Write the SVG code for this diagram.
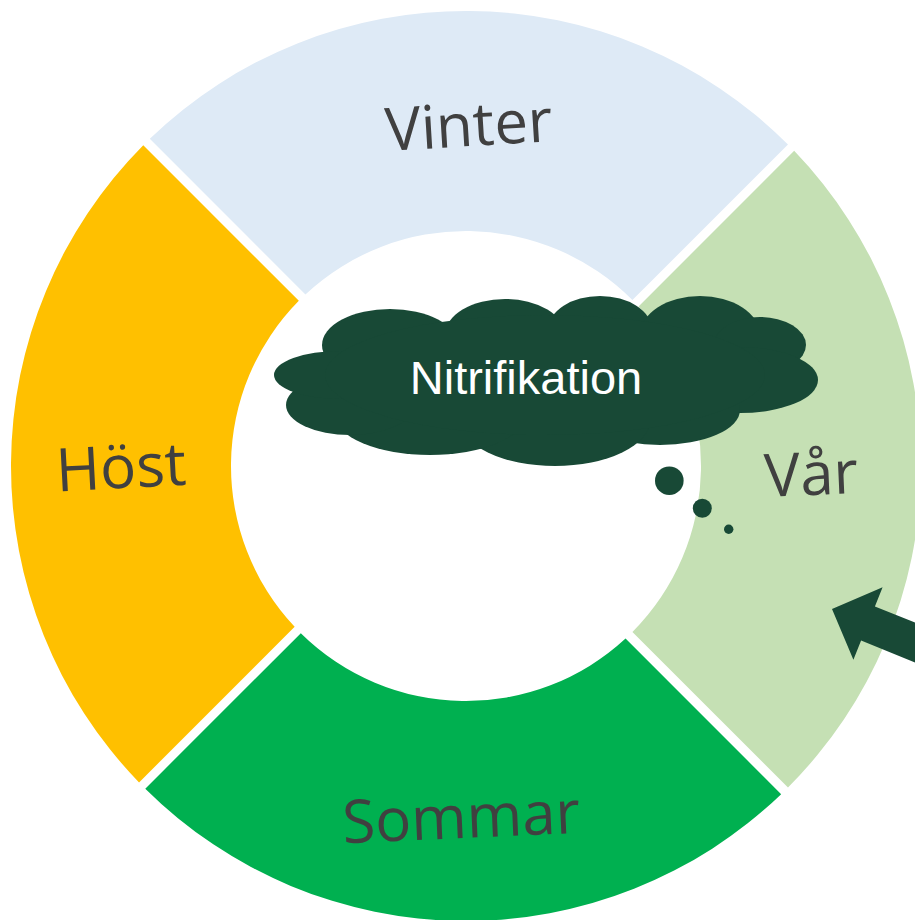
<svg xmlns="http://www.w3.org/2000/svg" width="915" height="920" viewBox="0 0 915 920">
<style>
.lbl{font-family:"Open Sans","DejaVu Sans",sans-serif;font-size:60px;fill:#404040;text-anchor:middle}
.cloud{fill:#184936}
.ctext{font-family:"Liberation Sans",Arial,sans-serif;font-size:47px;fill:#ffffff;text-anchor:middle}
</style>
<rect width="915" height="920" fill="#ffffff"/>
<g id="vinter">
<path d="M149.81,138.81 A455,455 0 0 1 787.99,144.51 L632.42,300.08 A235,235 0 0 0 305.42,294.42 Z" fill="#DEEAF6"/>
<text class="lbl" x="470" y="146" transform="rotate(-3.5 470 146)">Vinter</text>
</g>
<g id="var">
<path d="M794.17,150.83 A455,455 0 0 1 787.99,787.49 L632.42,631.92 A235,235 0 0 0 638.55,306.45 Z" fill="#C5E0B4"/>
<text class="lbl" x="812" y="495" transform="rotate(-2.5 812 495)">Vår</text>
</g>
<g id="sommar">
<path d="M781.17,794.17 A455,455 0 0 1 145.27,788.73 L300.83,633.17 A235,235 0 0 0 625.55,638.55 Z" fill="#00B050"/>
<text class="lbl" x="462" y="838" transform="rotate(-2.5 462 838)">Sommar</text>
</g>
<g id="host">
<path d="M139.06,782.44 A455,455 0 0 1 143.27,145.27 L298.83,300.83 A235,235 0 0 0 294.66,626.84 Z" fill="#FFC000"/>
<text class="lbl" x="122" y="488" transform="rotate(-3 122 488)">Höst</text>
</g>
<g id="nitrifikation">
<g class="cloud">
<ellipse cx="390" cy="345" rx="68" ry="36"/>
<ellipse cx="505" cy="335" rx="60" ry="36"/>
<ellipse cx="600" cy="330" rx="52" ry="34"/>
<ellipse cx="700" cy="335" rx="60" ry="39"/>
<ellipse cx="760" cy="345" rx="46" ry="28"/>
<ellipse cx="740" cy="380" rx="78" ry="33"/>
<ellipse cx="660" cy="410" rx="80" ry="35"/>
<ellipse cx="555" cy="420" rx="95" ry="46"/>
<ellipse cx="430" cy="415" rx="95" ry="40"/>
<ellipse cx="350" cy="405" rx="64" ry="30"/>
<ellipse cx="340" cy="375" rx="66" ry="24"/>
<ellipse cx="545" cy="375" rx="220" ry="60"/>
<circle cx="669.3" cy="480.7" r="14.3"/>
<circle cx="702.3" cy="508.3" r="9.5"/>
<circle cx="728.7" cy="529.3" r="4.7"/>
</g>
<text class="ctext" x="526" y="394">Nitrifikation</text>
</g>
<g id="connectors">
<polygon class="cloud" points="832,609 882.6,587.3 874.9,606.4 967.6,643.9 953.8,678.1 861.1,640.6 853.4,659.7"/>
</g>
</svg>
